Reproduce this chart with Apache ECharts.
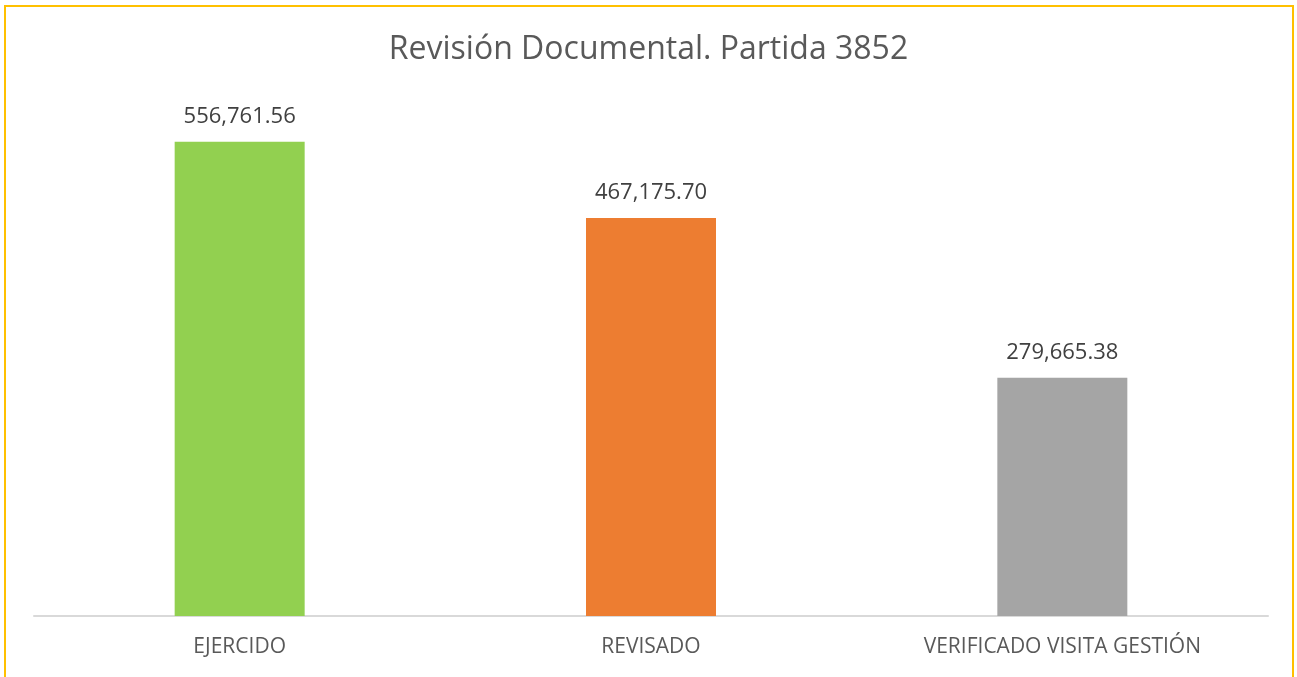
<!DOCTYPE html>
<html lang="es">
<head>
  <meta charset="UTF-8">
  <title>Revisión Documental</title>
  <style>
    * { padding: 0; margin: 0; }
    html, body { width: 100%; height: 100%; overflow: hidden; background: #fff; }
    #chart { width: 1297px; height: 677px; position: relative; }
    .frame {
      position: absolute;
      left: 4px;
      top: 5px;
      width: 1290px;
      height: 720px;
      border: 2px solid #FFC000;
      box-sizing: border-box;
      pointer-events: none;
    }
  </style>
  <script src="https://cdn.jsdelivr.net/npm/echarts@6/dist/echarts.min.js"></script>
</head>
<body>
  <div id="chart"></div>
  <div class="frame"></div>

  <script>
    // data
    var categories = ['EJERCIDO', 'REVISADO', 'VERIFICADO VISITA GESTIÓN'];
    var values = [556761.56, 467175.70, 279665.38];
    var barColors = ['#92D050', '#ED7D31', '#A5A5A5'];

    function fmt(v) {
      return v.toLocaleString('en-US', { minimumFractionDigits: 2, maximumFractionDigits: 2 });
    }

    var chart = echarts.init(document.querySelector('#chart'));
    var option = {
      backgroundColor: '#fff',
      textStyle: { fontFamily: 'Open Sans' },
      title: {
        text: 'Revisión Documental. Partida 3852',
        left: 'center',
        top: 29,
        textStyle: {
          fontFamily: 'Open Sans',
          fontSize: 32,
          fontWeight: 'normal',
          color: '#595959'
        }
      },
      grid: {
        left: 34,
        right: 29,
        top: 105,
        bottom: 61,
        containLabel: false
      },
      xAxis: {
        type: 'category',
        data: categories,
        axisLine: { lineStyle: { color: '#D9D9D9', width: 2 } },
        axisTick: { show: false },
        axisLabel: {
          color: '#595959',
          fontSize: 21,
          margin: 21,
          fontFamily: 'Open Sans'
        }
      },
      yAxis: {
        type: 'value',
        min: 0,
        max: 600000,
        show: false,
        splitLine: { show: false }
      },
      series: [{
        type: 'bar',
        barWidth: 130,
        data: values.map(function (v, i) {
          return { value: v, itemStyle: { color: barColors[i] } };
        }),
        label: {
          show: true,
          position: 'top',
          distance: 14,
          color: '#404040',
          fontSize: 22,
          fontFamily: 'Open Sans',
          formatter: function (p) { return fmt(p.value); }
        }
      }]
    };
    chart.setOption(option);
  </script>
</body>
</html>
